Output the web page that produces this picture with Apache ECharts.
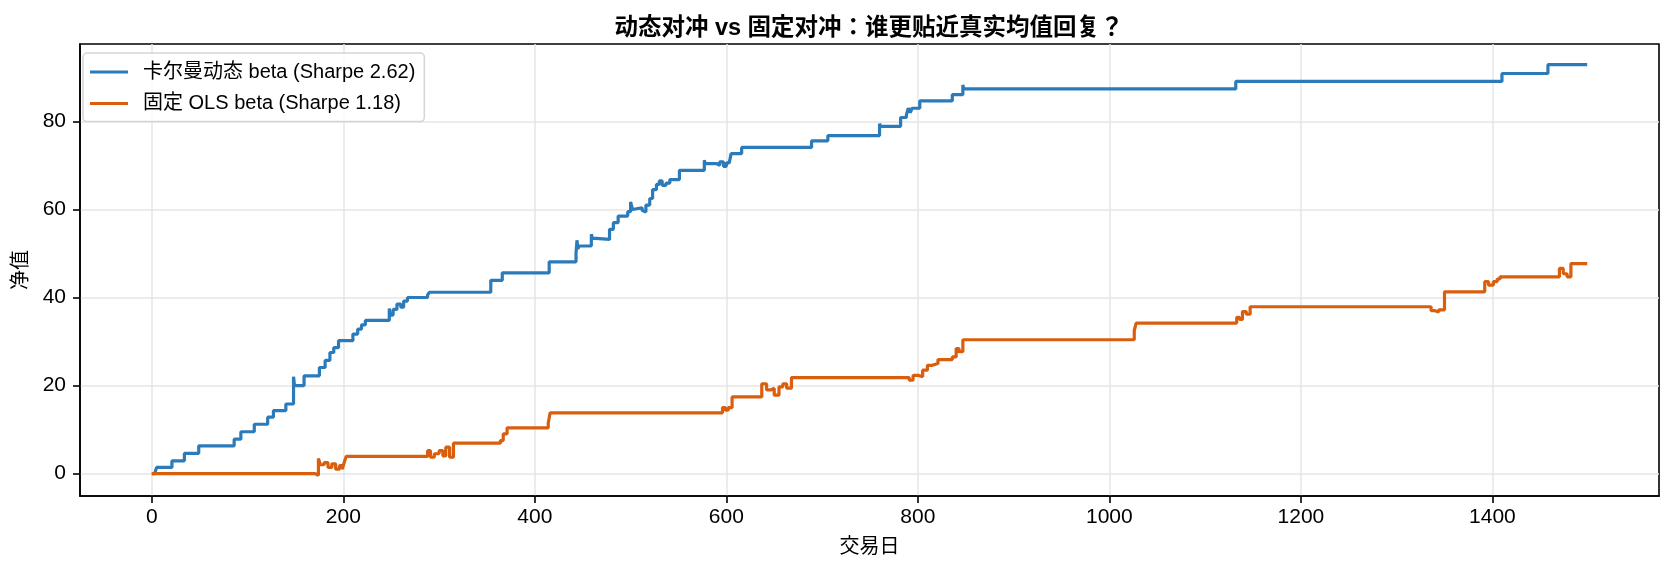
<!DOCTYPE html>
<html>
<head>
<meta charset="utf-8">
<script src="https://cdn.jsdelivr.net/npm/echarts@6/dist/echarts.min.js"></script>
<style>
  html, body { margin: 0; padding: 0; background: #fff; }
  #chart { width: 1673px; height: 568px; }
</style>
</head>
<body>
<div id="chart"></div>
<script>
// 卡尔曼动态 beta 净值（变化点：交易日, 净值）
const kalmanX = [0, 3, 5, 21, 34, 49, 86, 93, 107, 121, 127, 140, 148, 149, 159, 175, 181, 186, 190, 195,
  210, 215, 219, 223, 248, 249, 252, 256, 260, 263, 267, 288, 290, 354, 366, 415, 443, 444, 445, 446,
  459, 460, 461, 478, 482, 487, 497, 500, 502, 504, 512, 514, 516, 520, 523, 527, 530, 533, 537, 541,
  551, 577, 578, 590, 593, 597, 600, 603, 605, 616, 689, 706, 760, 761, 782, 788, 790, 792, 794, 802,
  836, 847, 848, 1132, 1410, 1458, 1499];
const kalmanY = [0, -0.4, 1.4, 2.9, 4.6, 6.3, 7.8, 9.5, 11.2, 12.8, 14.3, 15.8, 22.0, 20.0, 22.2, 24.1, 25.7, 27.5, 28.6, 30.2,
  31.7, 32.8, 33.8, 34.8, 37.5, 36.0, 37.3, 38.5, 37.8, 39.2, 40.0, 40.6, 41.2, 43.9, 45.6, 48.1, 50.0, 53.0, 51.0, 51.7,
  54.4, 53.5, 53.2, 55.5, 57.0, 58.5, 59.5, 61.7, 60.0, 60.4, 59.8, 59.4, 61.0, 62.5, 64.5, 65.7, 66.5, 65.5, 66.0, 66.8,
  68.9, 71.2, 70.4, 70.0, 70.8, 69.8, 70.6, 70.2, 72.7, 74.1, 75.6, 76.8, 79.5, 78.9, 80.9, 81.5, 83.0, 82.0, 83.0, 84.7,
  86.1, 88.3, 87.4, 89.1, 90.9, 92.9, 92.9];

// 固定 OLS beta 净值
const olsX = [0, 170, 171, 174, 176, 180, 184, 188, 192, 196, 199, 201, 203, 288, 291, 295, 300, 304, 307, 311,
  315, 364, 367, 371, 414, 416, 596, 599, 602, 606, 637, 642, 647, 650, 655, 659, 663, 668, 791, 795,
  801, 805, 810, 815, 821, 836, 840, 843, 847, 1026, 1028, 1133, 1136, 1139, 1143, 1147, 1336, 1340, 1344, 1350,
  1392, 1396, 1401, 1405, 1408, 1470, 1474, 1478, 1482, 1499];
const olsY = [0, 0, -0.4, 3.4, 2.0, 2.5, 1.4, 2.2, 1.0, 1.8, 1.0, 2.6, 3.9, 5.2, 3.7, 4.5, 5.2, 4.0, 6.0, 3.7,
  6.9, 7.5, 9.0, 10.4, 11.5, 13.8, 15.0, 14.4, 15.0, 17.4, 20.4, 19.0, 19.4, 17.8, 19.7, 20.4, 19.4, 21.8, 21.2, 22.3,
  22.0, 23.5, 24.6, 25.0, 25.9, 26.5, 28.4, 27.7, 30.4, 32.5, 34.2, 35.5, 35.0, 36.8, 36.2, 37.9, 37.0, 36.7, 37.2, 41.3,
  43.6, 42.8, 43.6, 44.2, 44.7, 46.6, 45.4, 44.7, 47.7, 47.8];

const xTicks = [0, 200, 400, 600, 800, 1000, 1200, 1400];
const yTicks = [0, 20, 40, 60, 80];

const FONT = "'Liberation Sans', 'Noto Sans CJK JP', sans-serif";

const chart = echarts.init(document.getElementById('chart'));

const axisLine = { show: true, onZero: false, lineStyle: { color: '#000', width: 1.6 } };

const option = {
  animation: false,
  backgroundColor: '#fff',
  textStyle: { fontFamily: FONT },
  title: {
    text: '动态对冲 vs 固定对冲：谁更贴近真实均值回复？',
    left: 864,
    textAlign: 'center',
    top: 12,
    textStyle: { fontFamily: FONT, fontSize: 23.5, fontWeight: 'bold', color: '#000' }
  },
  legend: {
    left: 83,
    top: 53,
    orient: 'vertical',
    itemWidth: 38,
    itemHeight: 3,
    itemGap: 11.6,
    icon: 'rect',
    padding: [9, 9, 8, 7],
    backgroundColor: 'rgba(255,255,255,0.8)',
    borderColor: '#d5d5d5',
    borderWidth: 1.5,
    borderRadius: 4,
    textStyle: { fontFamily: FONT, fontSize: 20, color: '#000', lineHeight: 20, padding: [0, 0, 0, 10] }
  },
  grid: {
    left: 80,
    right: 14,
    top: 44,
    bottom: 72,
    show: true,
    borderColor: '#000',
    borderWidth: 1.6
  },
  xAxis: {
    type: 'value',
    min: -75,
    max: 1574,
    name: '交易日',
    nameLocation: 'middle',
    nameGap: 41,
    nameTextStyle: { fontFamily: FONT, fontSize: 20, color: '#000' },
    axisLine: axisLine,
    axisTick: { show: true, inside: false, length: 7, customValues: xTicks, lineStyle: { color: '#000', width: 1.6 } },
    axisLabel: { customValues: xTicks, fontSize: 21, color: '#000', margin: 11, fontFamily: FONT,
      formatter: v => String(v) },
    splitLine: { show: true, lineStyle: { color: '#e6e6e6', width: 1.5 } }
  },
  yAxis: {
    type: 'value',
    min: -5.1,
    max: 97.6,
    name: '净值',
    nameLocation: 'middle',
    nameGap: 47,
    nameTextStyle: { fontFamily: FONT, fontSize: 20, color: '#000' },
    axisLine: axisLine,
    axisTick: { show: true, inside: false, length: 7, customValues: yTicks, lineStyle: { color: '#000', width: 1.6 } },
    axisLabel: { customValues: yTicks, fontSize: 21, color: '#000', margin: 14, fontFamily: FONT },
    splitLine: { show: true, lineStyle: { color: '#e6e6e6', width: 1.5 } }
  },
  series: [
    {
      name: '卡尔曼动态 beta (Sharpe 2.62)',
      type: 'line',
      step: 'end',
      showSymbol: false,
      color: '#2b7bba',
      lineStyle: { width: 3.2, color: '#2b7bba' },
      data: kalmanX.map((x, i) => [x, kalmanY[i]])
    },
    {
      name: '固定 OLS beta (Sharpe 1.18)',
      type: 'line',
      step: 'end',
      showSymbol: false,
      color: '#d95f0e',
      lineStyle: { width: 3.2, color: '#d95f0e' },
      data: olsX.map((x, i) => [x, olsY[i]])
    }
  ]
};

chart.setOption(option);
</script>
</body>
</html>
